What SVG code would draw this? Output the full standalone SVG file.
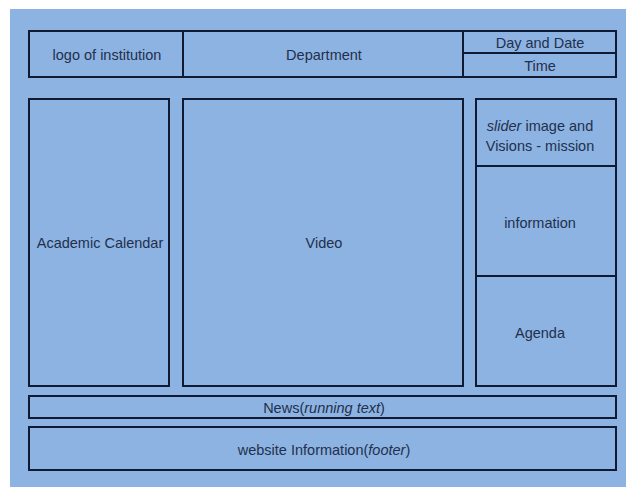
<svg xmlns="http://www.w3.org/2000/svg" width="626" height="487" viewBox="0 0 626 487">
<style>
.box{fill:#8DB3E2;stroke:#111a33;stroke-width:2}
.t{font-family:"Liberation Sans",Arial,sans-serif;font-size:14.5px;fill:#22304d;text-anchor:middle;dominant-baseline:central}
</style>
<rect x="0" y="0" width="626" height="487" fill="#ffffff"/>
<rect x="10" y="9" width="616" height="478" fill="#8DB3E2"/>
<g id="logo"><rect class="box" x="29" y="31" width="154" height="46"/><text class="t" x="107" y="55">logo of institution</text></g>
<g id="department"><rect class="box" x="183" y="31" width="280" height="46"/><text class="t" x="324" y="55">Department</text></g>
<g id="daydate"><rect class="box" x="463" y="31" width="153" height="22"/><text class="t" x="540" y="43">Day and Date</text></g>
<g id="time"><rect class="box" x="463" y="53" width="153" height="24"/><text class="t" x="540" y="66">Time</text></g>
<g id="calendar"><rect class="box" x="29" y="99" width="140" height="287"/><text class="t" x="100" y="243">Academic Calendar</text></g>
<g id="video"><rect class="box" x="183" y="99" width="280" height="287"/><text class="t" x="324" y="243">Video</text></g>
<g id="slider"><rect class="box" x="476" y="99" width="140" height="67"/><text class="t" x="540" y="126"><tspan font-style="italic">slider</tspan> image and</text><text class="t" x="540" y="146">Visions - mission</text></g>
<g id="information"><rect class="box" x="476" y="166" width="140" height="110"/><text class="t" x="540" y="223">information</text></g>
<g id="agenda"><rect class="box" x="476" y="276" width="140" height="110"/><text class="t" x="540" y="333">Agenda</text></g>
<g id="news"><rect class="box" x="29" y="396" width="587" height="22"/><text class="t" x="324" y="408">News(<tspan font-style="italic">running text</tspan>)</text></g>
<g id="footer"><rect class="box" x="29" y="427" width="587" height="43"/><text class="t" x="324" y="450">website Information(<tspan font-style="italic">footer</tspan>)</text></g>
<g id="connectors"></g>
</svg>
